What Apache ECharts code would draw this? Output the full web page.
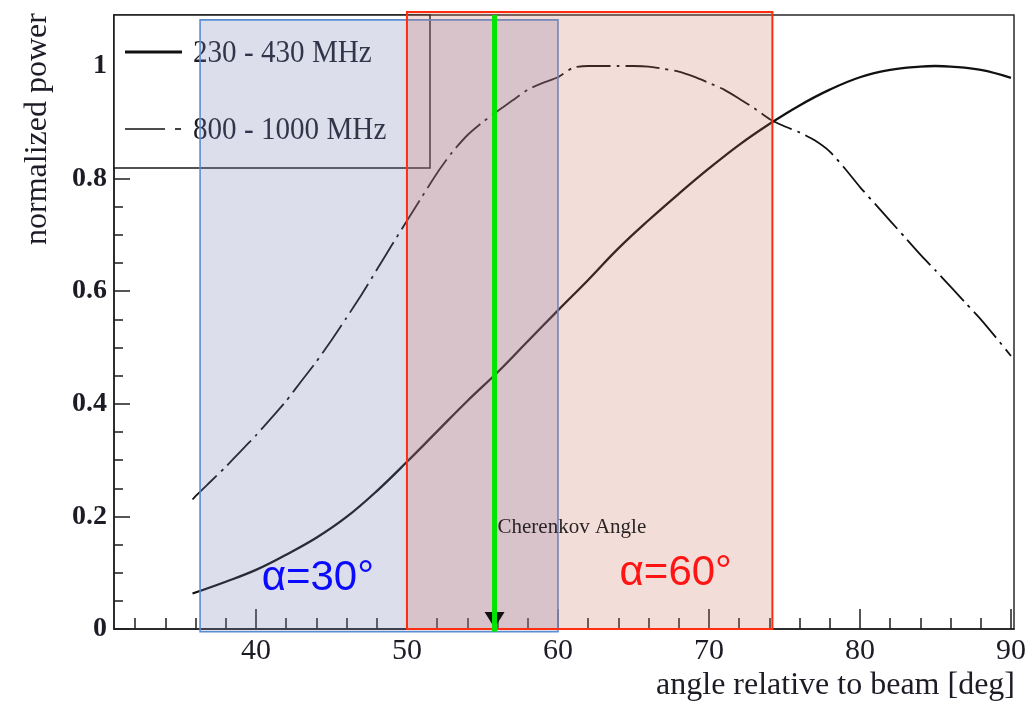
<!DOCTYPE html>
<html>
<head>
<meta charset="utf-8">
<script src="https://cdn.jsdelivr.net/npm/echarts@6/dist/echarts.min.js"></script>
<style>
  html, body { margin: 0; padding: 0; background: #ffffff; }
  #chart { width: 1034px; height: 707px; }
</style>
</head>
<body>
<div id="chart"></div>
<script>
// ---- data -------------------------------------------------------------
const seriesNames = ['230 - 430 MHz', '800 - 1000 MHz'];

// 230 - 430 MHz band: angle (deg) / normalized power
const anglesLow = [35.8, 38, 40, 42, 44, 46, 48, 50, 52, 54, 56, 58, 60, 62, 64, 66, 68, 70, 72, 74, 76, 78, 80, 82, 84, 85, 86, 88, 90];
const powerLow  = [0.063, 0.084, 0.105, 0.132, 0.162, 0.199, 0.245, 0.297, 0.351, 0.405, 0.456, 0.511, 0.566, 0.620, 0.676, 0.726, 0.773, 0.818, 0.860, 0.897, 0.930, 0.958, 0.980, 0.993, 0.999, 1.000, 0.999, 0.993, 0.979];

// 800 - 1000 MHz band: angle (deg) / normalized power
const anglesHigh = [35.8, 36, 37, 38, 39, 40, 41, 42, 43, 44, 45, 46, 47, 48, 49, 50, 51, 52, 53, 54, 55, 56, 57, 58, 59, 60, 61, 62, 63, 64, 65, 66, 67, 68, 69, 70, 71, 72, 73, 74, 75, 76, 77, 78, 79, 80, 81, 82, 83, 84, 85, 86, 87, 88, 89, 90];
const powerHigh  = [0.230, 0.236, 0.262, 0.288, 0.316, 0.344, 0.374, 0.405, 0.440, 0.475, 0.513, 0.553, 0.594, 0.638, 0.682, 0.725, 0.768, 0.810, 0.847, 0.877, 0.900, 0.920, 0.939, 0.958, 0.970, 0.980, 0.997, 1.000, 1.000, 1.000, 1.000, 0.999, 0.995, 0.990, 0.981, 0.970, 0.958, 0.942, 0.925, 0.906, 0.893, 0.882, 0.868, 0.848, 0.818, 0.785, 0.755, 0.725, 0.695, 0.665, 0.637, 0.608, 0.579, 0.550, 0.518, 0.485];

// axis ticks and labels
const xMajorTicks = [40, 50, 60, 70, 80, 90];
const xMinorTicks = [32, 34, 36, 38, 42, 44, 46, 48, 52, 54, 56, 58, 62, 64, 66, 68, 72, 74, 76, 78, 82, 84, 86, 88];
const yMajorTicks = [0, 0.2, 0.4, 0.6, 0.8, 1];
const yMinorTicks = [0.05, 0.1, 0.15, 0.25, 0.3, 0.35, 0.45, 0.5, 0.55, 0.65, 0.7, 0.75, 0.85, 0.9, 0.95, 1.05];

// shaded angular acceptance windows [from, to] in deg, and their labels
const windowBlue = [36.3, 60];
const windowRed  = [50, 74.2];
const windowLabels = ['α=30°', 'α=60°'];
const windowLabelPos = [[44.1, 0.09], [67.8, 0.098]];

// Cherenkov angle marker
const cherenkovAngle = 55.8;
const cherenkovText = 'Cherenkov Angle';

const xTitle = 'angle relative to beam [deg]';
const yTitle = 'normalized power';

// ---- chart --------------------------------------------------------------
const X_MIN = 30.6, X_MAX = 90.2, Y_MIN = 0, Y_MAX = 1.0906;
const SERIF = '"Liberation Serif", "DejaVu Serif", serif';
const SANS = '"Liberation Sans", Arial, sans-serif';
const INK = '#1c1c26';

const zip = (xs, ys) => xs.map((x, i) => [x, ys[i]]);

const chart = echarts.init(document.getElementById('chart'), null, { renderer: 'canvas' });

const tickStyle = { color: '#1e1e1e', width: 1.5 };

chart.setOption({
  animation: false,
  backgroundColor: '#ffffff',
  grid: {
    left: 114, top: 15, width: 900, height: 614,
    show: true, borderColor: '#2a2a2a', borderWidth: 1.5,
    backgroundColor: 'transparent'
  },
  xAxis: [
    {
      type: 'value', min: X_MIN, max: X_MAX, position: 'bottom',
      axisLine: { show: true, onZero: false, lineStyle: { color: '#1e1e1e', width: 1.5 } },
      axisTick: { show: true, inside: true, length: 20, customValues: xMajorTicks, lineStyle: tickStyle },
      axisLabel: { show: true, customValues: xMajorTicks, margin: 7, fontFamily: SERIF, fontSize: 30, color: INK },
      splitLine: { show: false }
    },
    {
      type: 'value', min: X_MIN, max: X_MAX, position: 'bottom',
      axisLine: { show: false },
      axisTick: { show: true, inside: true, length: 11, customValues: xMinorTicks, lineStyle: tickStyle },
      axisLabel: { show: false },
      splitLine: { show: false }
    }
  ],
  yAxis: [
    {
      type: 'value', min: Y_MIN, max: Y_MAX, position: 'left',
      axisLine: { show: true, onZero: false, lineStyle: { color: '#1e1e1e', width: 1.5 } },
      axisTick: { show: true, inside: true, length: 16, customValues: yMajorTicks, lineStyle: tickStyle },
      axisLabel: {
        show: true, customValues: yMajorTicks, margin: 7,
        fontFamily: SERIF, fontSize: 28, fontWeight: 'bold', color: INK,
        formatter: v => String(v)
      },
      splitLine: { show: false }
    },
    {
      type: 'value', min: Y_MIN, max: Y_MAX, position: 'left',
      axisLine: { show: false },
      axisTick: { show: true, inside: true, length: 9, customValues: yMinorTicks, lineStyle: tickStyle },
      axisLabel: { show: false },
      splitLine: { show: false }
    }
  ],
  series: [
    {
      name: seriesNames[0], type: 'line', xAxisIndex: 0, yAxisIndex: 0,
      data: zip(anglesLow, powerLow), showSymbol: false, symbol: 'none',
      smooth: 0.4, lineStyle: { color: '#111111', width: 2.3 }, z: 3
    },
    {
      name: seriesNames[1], type: 'line', xAxisIndex: 0, yAxisIndex: 0,
      data: zip(anglesHigh, powerHigh), showSymbol: false, symbol: 'none',
      smooth: 0.2, lineStyle: { color: '#111111', width: 1.8, type: [34, 6, 3, 6] }, z: 3
    }
  ]
});

// ---- overlays positioned through the axis scales -------------------------
const px = (x, y) => chart.convertToPixel({ xAxisIndex: 0, yAxisIndex: 0 }, [x, y]);

function box(x0, y0, x1, y1) {
  const a = px(x0, y0), b = px(x1, y1);
  return { x: Math.min(a[0], b[0]), y: Math.min(a[1], b[1]), width: Math.abs(b[0] - a[0]), height: Math.abs(b[1] - a[1]) };
}

const blueBox = box(windowBlue[0], 1.082, windowBlue[1], -0.005);
const redBox = box(windowRed[0], 1.096, windowRed[1], 0);
const cBottom = px(cherenkovAngle, -0.005);
const cZero = px(cherenkovAngle, 0);
const cTop = px(cherenkovAngle, Y_MAX);
const cText = px(cherenkovAngle, 0.181);
const lab30 = px(windowLabelPos[0][0], windowLabelPos[0][1]);
const lab60 = px(windowLabelPos[1][0], windowLabelPos[1][1]);

const legendFont = '32px ' + SERIF;

chart.setOption({
  graphic: [
    // legend box
    { type: 'rect', z: 10, shape: { x: 114, y: 15, width: 316, height: 153 },
      style: { fill: '#ffffff', stroke: '#1a1a1a', lineWidth: 1.5 } },
    { type: 'line', z: 11, shape: { x1: 125, y1: 52, x2: 182, y2: 52 },
      style: { stroke: '#111111', lineWidth: 3 } },
    { type: 'text', z: 11, x: 193, y: 54, scaleX: 0.91,
      style: { text: seriesNames[0], font: legendFont, fill: INK, textVerticalAlign: 'middle' } },
    { type: 'line', z: 11, shape: { x1: 125, y1: 129, x2: 165, y2: 129 },
      style: { stroke: '#111111', lineWidth: 1.6 } },
    { type: 'line', z: 11, shape: { x1: 175, y1: 129, x2: 181, y2: 129 },
      style: { stroke: '#111111', lineWidth: 1.6 } },
    { type: 'text', z: 11, x: 193, y: 131, scaleX: 0.91,
      style: { text: seriesNames[1], font: legendFont, fill: INK, textVerticalAlign: 'middle' } },

    // acceptance windows
    { type: 'rect', z: 20, shape: blueBox,
      style: { fill: 'rgba(115,123,179,0.25)', stroke: '#5a8ed4', lineWidth: 1.6 } },
    { type: 'rect', z: 21, shape: redBox,
      style: { fill: 'rgba(205,110,90,0.23)', stroke: '#ff2e10', lineWidth: 2 } },

    // Cherenkov angle marker
    { type: 'polygon', z: 25,
      shape: { points: [[cZero[0] - 10, cZero[1] - 17], [cZero[0] + 10, cZero[1] - 17], [cZero[0], cZero[1] - 1]] },
      style: { fill: '#111111' } },
    { type: 'line', z: 30, shape: { x1: cTop[0], y1: cTop[1], x2: cBottom[0], y2: cBottom[1] },
      style: { stroke: '#00e600', lineWidth: 5 } },
    { type: 'text', z: 35, x: cText[0] + 3, y: cText[1],
      style: { text: cherenkovText, font: '21px ' + SERIF, fill: '#2a2424', textVerticalAlign: 'middle' } },

    // window labels
    { type: 'text', z: 40, x: lab30[0], y: lab30[1],
      style: { text: windowLabels[0], font: '42px ' + SANS, fill: '#0a0aff', textAlign: 'center', textVerticalAlign: 'middle' } },
    { type: 'text', z: 40, x: lab60[0], y: lab60[1],
      style: { text: windowLabels[1], font: '42px ' + SANS, fill: '#ff1414', textAlign: 'center', textVerticalAlign: 'middle' } },

    // axis titles
    { type: 'text', z: 5, x: 38, y: 129, rotation: Math.PI / 2,
      style: { text: yTitle, font: '32px ' + SERIF, fill: INK, textAlign: 'center', textVerticalAlign: 'middle' } },
    { type: 'text', z: 5, x: 1015, y: 686,
      style: { text: xTitle, font: '32px ' + SERIF, fill: INK, textAlign: 'right', textVerticalAlign: 'middle' } }
  ]
});
</script>
</body>
</html>
